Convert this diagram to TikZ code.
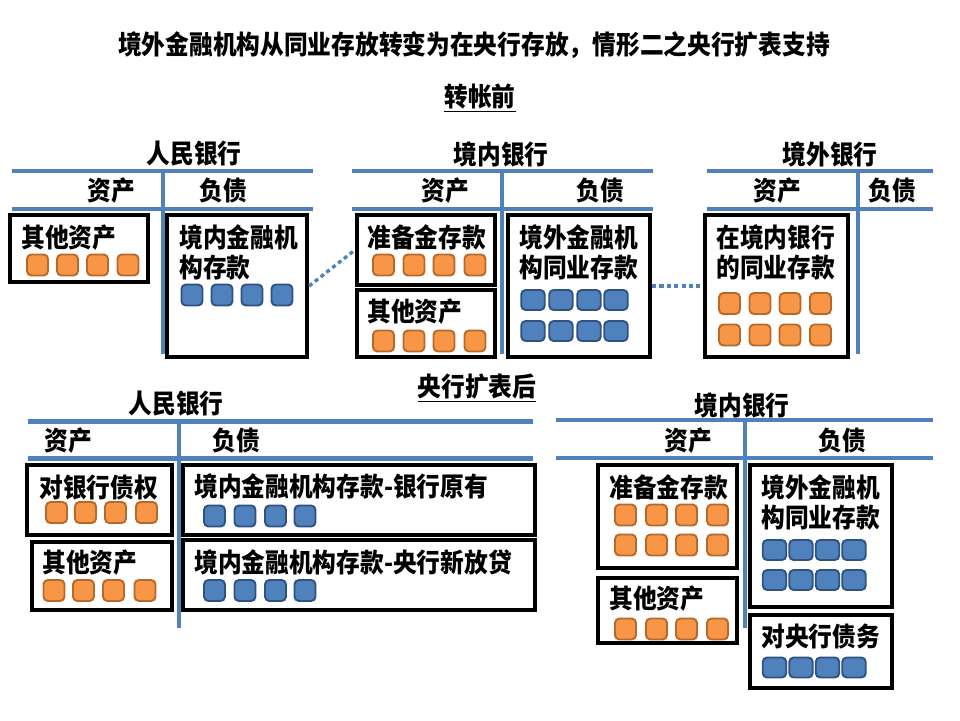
\documentclass[tikz,border=0pt]{standalone}
\usepackage{fontspec}
\setmainfont{Noto Sans CJK SC}[FakeStretch=0.9]
\usepackage{tikz}
\usetikzlibrary{positioning}

\definecolor{tblue}{HTML}{4F81BD}
\definecolor{ofill}{HTML}{F79646}
\definecolor{oedge}{HTML}{B8692A}
\definecolor{bfill}{HTML}{4F81BD}
\definecolor{bedge}{HTML}{2F5283}

\begin{document}
\begin{tikzpicture}[
    x=0.02cm, y=-0.02cm,
    tline/.style={draw=tblue, line width=2.8pt},
    head/.style={inner sep=0, font=\fontsize{15}{18}\selectfont\bfseries},
    item/.style={anchor=west, align=left, inner sep=0, font=\fontsize{15}{17}\selectfont\bfseries},
    acct/.style={draw=black, line width=2.4pt, inner sep=0},
    osq/.style={draw=oedge, fill=ofill, line width=1.1pt, rounded corners=2.5pt, minimum width=0.42cm, minimum height=0.42cm, inner sep=0},
    bsq/.style={draw=bedge, fill=bfill, line width=1.1pt, rounded corners=2.5pt, minimum width=0.42cm, minimum height=0.42cm, inner sep=0},
    bsqw/.style={bsq, minimum width=0.47cm, minimum height=0.4cm},
    link/.style={draw=tblue, line width=1.9pt, dash pattern=on 2.3pt off 1.9pt}
]
\useasboundingbox (0,0) rectangle (960,720);

% Titles
\node[head] (title) at (474,45) {境外金融机构从同业存放转变为在央行存放，情形二之央行扩表支持};
\node[head] (before) at (480,98) {\underline{转帐前}};
\node[head] (after) at (477,388) {\underline{央行扩表后}};

% PBOC before
\draw[tline] (12,171) -- (313,171);
\draw[tline] (12,209) -- (313,209);
\draw[tline] (163,171) -- (163,354);
\node[head] (pboc1) at (194,154) {人民银行};
\node[head] (pboc1a) at (111,191) {资产};
\node[head] (pboc1l) at (223,191) {负债};
\node[acct, minimum width=2.76cm, minimum height=1.34cm] (oth1) at (79,248.5) {};
\node[item] (oth1t) at (21,237.5) {其他资产};
\foreach \x [count=\i] in {37.5,67.5,97.5,128}
    \node[osq] (oth1s\i) at (\x,265) {};
\node[acct, minimum width=2.8cm, minimum height=2.84cm] (dep1) at (237,286) {};
\node[item] (dep1t) at (179,252) {境内金融机\\构存款};
\foreach \x [count=\i] in {192,222,252,282}
    \node[bsq] (dep1s\i) at (\x,295) {};

% Domestic bank before
\draw[tline] (352,171) -- (653,171);
\draw[tline] (352,209) -- (653,209);
\draw[tline] (502,171) -- (502,354);
\node[head] (dom1) at (501,154) {境内银行};
\node[head] (dom1a) at (445,191) {资产};
\node[head] (dom1l) at (600,191) {负债};
\node[acct, minimum width=2.76cm, minimum height=1.4cm] (res2) at (426,250) {};
\node[item] (res2t) at (367,237) {准备金存款};
\foreach \x [count=\i] in {383.5,414,444,475}
    \node[osq] (res2s\i) at (\x,265) {};
\node[acct, minimum width=2.76cm, minimum height=1.34cm] (oth2) at (426,323.5) {};
\node[item] (oth2t) at (367,312) {其他资产};
\foreach \x [count=\i] in {383.5,414,444,475}
    \node[osq] (oth2s\i) at (\x,341) {};
\node[acct, minimum width=2.84cm, minimum height=2.84cm] (ib2) at (579,286) {};
\node[item] (ib2t) at (519,252) {境外金融机\\构同业存款};
\foreach \y in {300,331}
    \foreach \x [count=\i] in {533,561,589,616}
        \node[bsqw] (ib2s\y-\i) at (\x,\y) {};

% Foreign bank before
\draw[tline] (707,171) -- (933,171);
\draw[tline] (707,209) -- (933,209);
\draw[tline] (858,171) -- (858,354);
\node[head] (frn1) at (830,154) {境外银行};
\node[head] (frn1a) at (777,191) {资产};
\node[head] (frn1l) at (892,191) {负债};
\node[acct, minimum width=2.86cm, minimum height=2.84cm] (fd3) at (776.5,286) {};
\node[item] (fd3t) at (716,252) {在境内银行\\的同业存款};
\foreach \y in {303.5,335}
    \foreach \x [count=\i] in {729.5,760,790,820.5}
        \node[osq] (fd3s\y-\i) at (\x,\y) {};

% Dotted links
\draw[link] (dep1.east) -- (res2.west);
\draw[link] (ib2.east) -- (fd3.west);

% PBOC after
\draw[tline] (28,421.5) -- (533,421.5);
\draw[tline] (28,458.5) -- (533,458.5);
\draw[tline] (179,421.5) -- (179,628);
\node[head] (pboc4) at (176,404) {人民银行};
\node[head] (pboc4a) at (68.5,441) {资产};
\node[head] (pboc4l) at (236.5,441) {负债};
\node[acct, minimum width=2.9cm, minimum height=1.4cm] (clm4) at (99.5,500) {};
\node[item] (clm4t) at (39,487.5) {对银行债权};
\foreach \x [count=\i] in {56.5,85.5,115.5,146.5}
    \node[osq] (clm4s\i) at (\x,512.5) {};
\node[acct, minimum width=2.8cm, minimum height=1.36cm] (oth4) at (102,576) {};
\node[item] (oth4t) at (42,563) {其他资产};
\foreach \x [count=\i] in {54,83.5,113.5,145}
    \node[osq] (oth4s\i) at (\x,590.5) {};
\node[acct, minimum width=7.04cm, minimum height=1.4cm] (old4) at (359,500) {};
\node[item] (old4t) at (194,486) {境内金融机构存款-银行原有};
\foreach \x [count=\i] in {214.5,245,275.5,305}
    \node[bsq] (old4s\i) at (\x,516) {};
\node[acct, minimum width=7.04cm, minimum height=1.4cm] (new4) at (359,575) {};
\node[item] (new4t) at (194,562) {境内金融机构存款-央行新放贷};
\foreach \x [count=\i] in {214.5,245,275.5,305}
    \node[bsq] (new4s\i) at (\x,590.5) {};

% Domestic bank after
\draw[tline] (556,420) -- (933,420);
\draw[tline] (556,458) -- (933,458);
\draw[tline] (745,420) -- (745,628);
\node[head] (dom5) at (742,405) {境内银行};
\node[head] (dom5a) at (688,441) {资产};
\node[head] (dom5l) at (842,441) {负债};
\node[acct, minimum width=2.78cm, minimum height=2.06cm] (res5) at (667.5,516.5) {};
\node[item] (res5t) at (609,487) {准备金存款};
\foreach \y in {515,545}
    \foreach \x [count=\i] in {625.5,656.5,686.5,717.5}
        \node[osq] (res5s\y-\i) at (\x,\y) {};
\node[acct, minimum width=2.78cm, minimum height=1.3cm] (oth5) at (667.5,610.5) {};
\node[item] (oth5t) at (609,599) {其他资产};
\foreach \x [count=\i] in {625.5,656.5,686.5,717.5}
    \node[osq] (oth5s\i) at (\x,629) {};
\node[acct, minimum width=2.84cm, minimum height=2.84cm] (ib5) at (821,536) {};
\node[item] (ib5t) at (761,502.5) {境外金融机\\构同业存款};
\foreach \y in {550,580}
    \foreach \x [count=\i] in {774.5,801,827.5,854}
        \node[bsqw] (ib5s\y-\i) at (\x,\y) {};
\node[acct, minimum width=2.84cm, minimum height=1.46cm] (cb5) at (821,651.5) {};
\node[item] (cb5t) at (761,637) {对央行债务};
\foreach \x [count=\i] in {774.5,801,827.5,854}
    \node[bsqw] (cb5s\i) at (\x,667.5) {};

\end{tikzpicture}
\end{document}
